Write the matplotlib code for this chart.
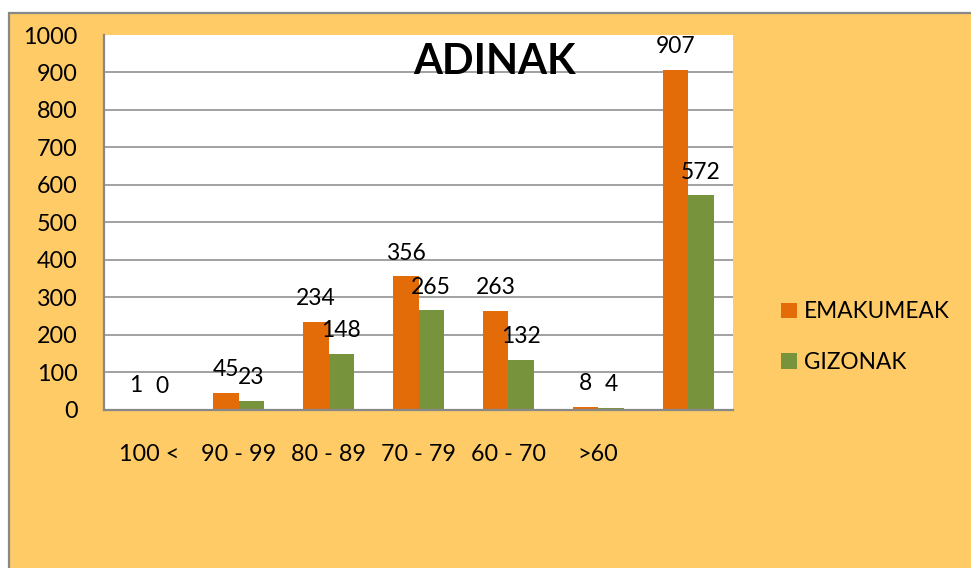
import matplotlib.pyplot as plt
import numpy as np
from matplotlib.patches import Rectangle

plt.rcParams['font.family'] = ['Lato', 'DejaVu Sans']

# data
categories = ["100 <", "90 - 99", "80 - 89", "70 - 79", "60 - 70", ">60", ""]
emakumeak = [1, 45, 234, 356, 263, 8, 907]
gizonak = [0, 23, 148, 265, 132, 4, 572]
series_names = ["EMAKUMEAK", "GIZONAK"]
y_ticks = [0, 100, 200, 300, 400, 500, 600, 700, 800, 900, 1000]

ORANGE = "#E36C09"
GREEN = "#77933C"
BG = "#FECB66"
GRID = "#888888"

W, H = 971, 568
fig = plt.figure(figsize=(W / 100, H / 100), dpi=100)
fig.patch.set_facecolor("white")

# outer chart-area box (border only visible on top and left)
fig.patches.append(Rectangle((9 / W, -0.05), 1.1, (555 / H) + 0.05,
                             transform=fig.transFigure, facecolor=BG,
                             edgecolor=GRID, linewidth=1.6, zorder=-5))

ax = fig.add_axes([104 / W, 158.5 / H, 629 / W, 374.5 / H])
ax.set_zorder(1)
ax.set_facecolor("white")

x = np.arange(len(categories))
bw = 0.284
b1 = ax.bar(x - bw / 2, emakumeak, bw, color=ORANGE, label=series_names[0], zorder=3)
b2 = ax.bar(x + bw / 2, gizonak, bw, color=GREEN, label=series_names[1], zorder=3)

for bars, vals in ((b1, emakumeak), (b2, gizonak)):
    for rect, v in zip(bars, vals):
        ax.annotate(str(v), (rect.get_x() + rect.get_width() / 2, v),
                    xytext=(0, 12), textcoords="offset points",
                    ha="center", va="baseline", fontsize=16.5, zorder=5)

ax.set_xlim(-0.5, len(categories) - 0.5)
ax.set_ylim(0, 1000)
ax.set_yticks(y_ticks)
ax.set_yticklabels([str(t) for t in y_ticks])
ax.set_xticks(x)
ax.set_xticklabels(categories)
ax.tick_params(axis="y", length=0, pad=19, labelsize=16.8)
ax.tick_params(axis="x", length=0, pad=25, labelsize=16.8)

for t in y_ticks[1:-1]:
    ax.axhline(t, color=GRID, linewidth=1.1, zorder=1)

for s in ("top", "right"):
    ax.spines[s].set_visible(False)
for s in ("left", "bottom"):
    ax.spines[s].set_color(GRID)
    ax.spines[s].set_linewidth(1.6)
    ax.spines[s].set_zorder(4)

ax.text(495 / W, 1 - 62 / H, "ADINAK", transform=fig.transFigure,
        fontsize=30, fontweight="bold", ha="center", va="center", zorder=6)

leg = fig.legend(handles=[b1, b2], labels=series_names, loc="center left",
                 bbox_to_anchor=(770 / W, 1 - 337 / H), frameon=False,
                 fontsize=16.3, handlelength=0.68, handleheight=0.68,
                 handletextpad=0.3, labelspacing=1.3, borderpad=0)

fig.savefig("out.png", dpi=100, facecolor=fig.get_facecolor())
